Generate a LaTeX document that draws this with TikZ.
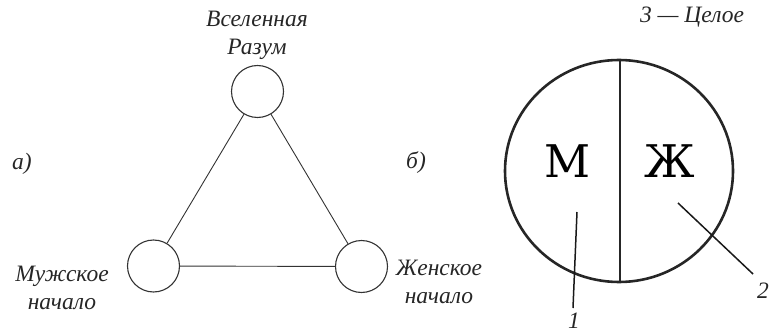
\documentclass[tikz,border=0pt]{standalone}
\usepackage{fontspec}
\setmainfont{Liberation Serif}
\newfontfamily\dvs{DejaVu Serif}
\begin{document}
\begin{tikzpicture}[x=1pt,y=-1pt,
  lbl/.style={font=\fontsize{23.5}{26}\selectfont\itshape, inner sep=0pt, align=center, text=black!85},
  small/.style={circle, draw=black!80, line width=1.1pt, minimum size=52pt, inner sep=0pt},
  edge/.style={draw=black!80, line width=0.9pt},
  big/.style={line width=2.6pt, draw=black!85},
  ptr/.style={line width=1.5pt, draw=black!90},
  letter/.style={font=\dvs\fontsize{45}{45}\selectfont, inner sep=0pt, text=black}]
\useasboundingbox (0,0) rectangle (773,334);
% a)
\node[small] (top) at (257.5,91.5) {};
\node[small] (left) at (153.5,266) {};
\node[small] (right) at (361.5,266.5) {};
\draw[edge] (top) -- (left);
\draw[edge] (top) -- (right);
\draw[edge] (left) -- (right);
\node[lbl] (tt) at (257,35) {Вселенная\\[2pt]Разум};
\node[lbl] (lt) at (62,288) {Мужское\\[2pt]начало};
\node[lbl] (rt) at (439,282) {Женское\\[2pt]начало};
\node[lbl] (a) at (22,164) {а)};
% b)
\node[lbl] (b) at (416,163) {б)};
\node[lbl] (whole) at (692,17) {3 — Целое};
\coordinate (c) at (619,171);
\draw[big] (c) ellipse[x radius=114, y radius=111];
\coordinate (vt) at (620,60);
\coordinate (vb) at (620,282);
\draw[line width=2.2pt, draw=black!85] (vt) -- (vb);
\node[letter] (M) at (568,161) {М};
\node[letter] (Zh) at (670,161) {Ж};
\coordinate (p1a) at (577,212);
\coordinate (p1b) at (573,308);
\coordinate (p2a) at (678,203);
\coordinate (p2b) at (753,274);
\draw[ptr] (p1a) -- (p1b);
\draw[ptr] (p2a) -- (p2b);
\node[lbl] (n1) at (574,321) {1};
\node[lbl] (n2) at (763,291) {2};
\end{tikzpicture}
\end{document}
